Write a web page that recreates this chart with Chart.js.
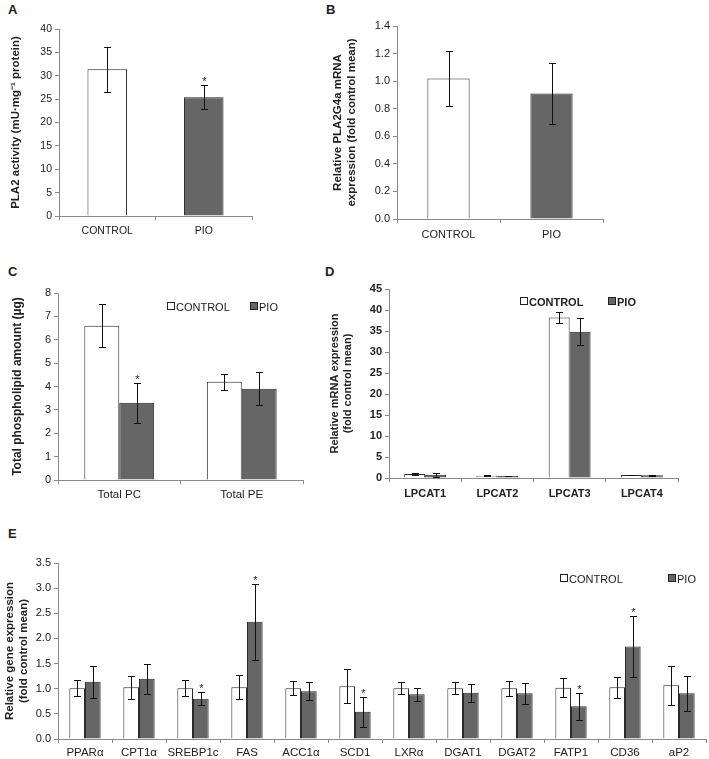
<!DOCTYPE html>
<html>
<head>
<meta charset="utf-8">
<script src="https://cdn.jsdelivr.net/npm/chart.js@4.4.0/dist/chart.umd.min.js"></script>
<style>
  body { margin: 0; background: #fff; }
  #wrap { position: relative; width: 709px; height: 759px; font-family: "Liberation Sans", Arial, sans-serif; color: #222; }
  #wrap canvas { position: absolute; }
  .panel { position: absolute; font-weight: bold; font-size: 13px; }
  .legend { position: absolute; font-size: 11px; white-space: nowrap; line-height: 14px; }
  .legend .box { display: inline-block; width: 6px; height: 6px; border: 1px solid #222; margin-right: 1px; vertical-align: 1px; }
</style>
</head>
<body>
<div id="wrap">
  <div class="panel" style="left:8px;top:2px">A</div>
  <div class="panel" style="left:326px;top:2px">B</div>
  <div class="panel" style="left:8px;top:264px">C</div>
  <div class="panel" style="left:325px;top:264px">D</div>
  <div class="panel" style="left:8px;top:526px">E</div>

  <canvas id="chartA" width="262" height="235" style="left:0px;top:15px"></canvas>
  <canvas id="chartB" width="285" height="238" style="left:328px;top:12px"></canvas>
  <canvas id="chartC" width="313" height="225" style="left:0px;top:280px"></canvas>
  <canvas id="chartD" width="365" height="230" style="left:323px;top:275px"></canvas>
  <canvas id="chartE" width="709" height="211" style="left:0px;top:548px"></canvas>

  <div class="legend" style="left:167px;top:300px"><span class="box" style="background:#fff"></span>CONTROL</div>
  <div class="legend" style="left:250px;top:300px"><span class="box" style="background:#666"></span>PIO</div>
  <div class="legend" style="left:520px;top:295px;font-weight:bold"><span class="box" style="background:#fff"></span>CONTROL</div>
  <div class="legend" style="left:608px;top:295px;font-weight:bold"><span class="box" style="background:#666"></span>PIO</div>
  <div class="legend" style="left:560px;top:572px"><span class="box" style="background:#fff"></span>CONTROL</div>
  <div class="legend" style="left:668px;top:572px"><span class="box" style="background:#666"></span>PIO</div>
</div>
<script>
// ---- data ----
var groupsAB = ['CONTROL', 'PIO'];
var plaActivity = [31.4, 25.4];
var plaActivityErr = [4.8, 2.6];
var plaActivityStar = [false, true];

var pla2g4a = [1.02, 0.91];
var pla2g4aErr = [0.2, 0.22];

var phosLabels = ['Total PC', 'Total PE'];
var phosControl = [6.6, 4.2];
var phosControlErr = [0.92, 0.33];
var phosPio = [3.3, 3.9];
var phosPioErr = [0.86, 0.7];
var phosPioStar = [true, false];

var lpcatLabels = ['LPCAT1', 'LPCAT2', 'LPCAT3', 'LPCAT4'];
var lpcatControl = [0.95, 0.55, 38.2, 0.7];
var lpcatControlErr = [0.25, 0.1, 1.3, 0.1];
var lpcatPio = [0.8, 0.48, 34.8, 0.63];
var lpcatPioErr = [0.45, 0.08, 3.2, 0.2];

var geneLabels = ['PPARα', 'CPT1α', 'SREBP1c', 'FAS', 'ACC1α', 'SCD1', 'LXRα', 'DGAT1', 'DGAT2', 'FATP1', 'CD36', 'aP2'];
var geneControl = [1.01, 1.03, 1.01, 1.03, 1.01, 1.05, 1.01, 1.01, 1.01, 1.02, 1.03, 1.07];
var geneControlErr = [0.16, 0.23, 0.16, 0.24, 0.14, 0.34, 0.12, 0.12, 0.15, 0.19, 0.21, 0.39];
var genePio = [1.14, 1.2, 0.8, 2.33, 0.95, 0.54, 0.89, 0.92, 0.91, 0.65, 1.84, 0.91];
var genePioErr = [0.32, 0.3, 0.13, 0.76, 0.18, 0.3, 0.13, 0.18, 0.21, 0.27, 0.6, 0.35];
var genePioStar = [false, false, true, true, false, true, false, false, false, true, true, false];

var WHITE = '#ffffff', GREY = '#666666', EDGE = '#2a2a2a';
var FONT = '"Liberation Sans", Arial, sans-serif';

// error bars + significance stars, drawn from the y scale
var errorBars = {
    id: 'errorBars',
    afterDatasetsDraw: function (chart) {
        var ctx = chart.ctx;
        var y = chart.scales.y;
        chart.data.datasets.forEach(function (ds, i) {
            var meta = chart.getDatasetMeta(i);
            meta.data.forEach(function (bar, j) {
                var v = ds.data[j], e = ds.errors[j];
                var x = Math.round(bar.x) + 0.5;
                var top = Math.round(y.getPixelForValue(v + e)) + 0.5;
                var bot = Math.round(y.getPixelForValue(v - e)) + 0.5;
                ctx.save();
                ctx.strokeStyle = '#111';
                ctx.lineWidth = 1;
                ctx.beginPath();
                ctx.moveTo(x, top); ctx.lineTo(x, bot);
                ctx.moveTo(x - 3.5, top); ctx.lineTo(x + 3.5, top);
                ctx.moveTo(x - 3.5, bot); ctx.lineTo(x + 3.5, bot);
                ctx.stroke();
                if (ds.stars && ds.stars[j]) {
                    ctx.fillStyle = '#222';
                    ctx.font = '11px ' + FONT;
                    ctx.textAlign = 'center';
                    ctx.textBaseline = 'bottom';
                    ctx.fillText('*', x, top + 2);
                }
                ctx.restore();
            });
        });
    }
};

function bars(values, errs, color, stars) {
    return {
        data: values, errors: errs, stars: stars,
        backgroundColor: color, borderColor: EDGE, borderWidth: 1
    };
}

function makeChart(id, labels, datasets, o) {
    return new Chart(document.getElementById(id), {
        type: 'bar',
        data: { labels: labels, datasets: datasets },
        plugins: [errorBars],
        options: {
            responsive: false,
            animation: false,
            devicePixelRatio: 1,
            categoryPercentage: o.catPct,
            barPercentage: 1,
            layout: { padding: { left: 0, top: o.padTop, right: o.padRight, bottom: 0 } },
            plugins: { legend: { display: false }, tooltip: { enabled: false } },
            scales: {
                x: {
                    grid: { offset: true, drawOnChartArea: false, tickLength: 4, color: '#8a8a8a' },
                    border: { color: '#8a8a8a' },
                    ticks: { color: '#222', padding: o.xPad, font: { family: FONT, size: o.xSize, weight: o.bold ? 'bold' : 'normal' }, maxRotation: 0, autoSkip: false },
                    afterFit: function (s) { s.height = o.xHeight; }
                },
                y: {
                    min: o.min, max: o.max,
                    grid: { drawOnChartArea: false, tickLength: 4, color: '#8a8a8a' },
                    border: { color: '#8a8a8a' },
                    ticks: {
                        stepSize: o.step, color: '#222', padding: 3,
                        font: { family: FONT, size: o.ySize, weight: o.bold ? 'bold' : 'normal' },
                        callback: function (v) { return v.toFixed(o.dec); }
                    },
                    title: {
                        display: true, text: o.title, color: '#222',
                        padding: { top: o.titlePad, bottom: 0 },
                        font: { family: FONT, size: o.titleSize, weight: 'bold', lineHeight: 1.2 }
                    },
                    afterFit: function (s) { s.width = o.yWidth; }
                }
            }
        }
    });
}

makeChart('chartA', groupsAB,
    [bars(plaActivity, plaActivityErr, [WHITE, GREY], plaActivityStar)],
    { catPct: 0.41, padTop: 14, padRight: 10, xHeight: 34, yWidth: 59, min: 0, max: 40, step: 5, dec: 0,
      title: 'PLA2 activity (mU·mg⁻¹ protein)', titlePad: 9, titleSize: 11.5, xSize: 10.5, ySize: 10.5, xPad: 5 });

makeChart('chartB', groupsAB,
    [bars(pla2g4a, pla2g4aErr, [WHITE, GREY])],
    { catPct: 0.41, padTop: 14, padRight: 10, xHeight: 31, yWidth: 69, min: 0, max: 1.4, step: 0.2, dec: 1,
      title: ['Relative PLA2G4a mRNA', 'expression (fold control mean)'], titlePad: 3, titleSize: 11.5, xSize: 11, ySize: 11, xPad: 5 });

makeChart('chartC', phosLabels,
    [bars(phosControl, phosControlErr, WHITE), bars(phosPio, phosPioErr, GREY, phosPioStar)],
    { catPct: 0.57, padTop: 13, padRight: 10, xHeight: 25, yWidth: 58, min: 0, max: 8, step: 1, dec: 0,
      title: 'Total phospholipid amount (µg)', titlePad: 10, titleSize: 12, xSize: 11.5, ySize: 11, xPad: 4 });

makeChart('chartD', lpcatLabels,
    [bars(lpcatControl, lpcatControlErr, WHITE), bars(lpcatPio, lpcatPioErr, GREY)],
    { catPct: 0.58, padTop: 14, padRight: 10, xHeight: 27, yWidth: 66, min: 0, max: 45, step: 5, dec: 0, bold: true,
      title: ['Relative mRNA expression', '(fold control mean)'], titlePad: 5, titleSize: 11, xSize: 11, ySize: 11, xPad: 5 });

makeChart('chartE', geneLabels,
    [bars(geneControl, geneControlErr, WHITE), bars(genePio, genePioErr, GREY, genePioStar)],
    { catPct: 0.58, padTop: 15, padRight: 3, xHeight: 20, yWidth: 58, min: 0, max: 3.5, step: 0.5, dec: 1,
      title: ['Relative gene expression', '(fold control mean)'], titlePad: 3, titleSize: 11.5, xSize: 11.5, ySize: 11, xPad: 3 });
</script>
</body>
</html>
